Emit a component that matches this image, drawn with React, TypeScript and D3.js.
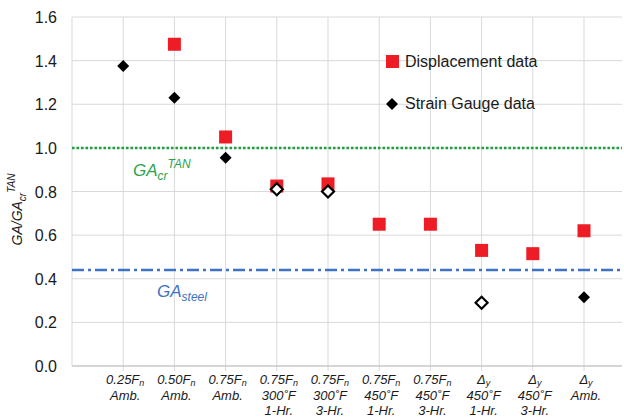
import React from "react";
import * as d3 from "d3";

const categories = [
  ["0.25F|n", "Amb.", ""],
  ["0.50F|n", "Amb.", ""],
  ["0.75F|n", "Amb.", ""],
  ["0.75F|n", "300˚F", "1-Hr."],
  ["0.75F|n", "300˚F", "3-Hr."],
  ["0.75F|n", "450˚F", "1-Hr."],
  ["0.75F|n", "450˚F", "3-Hr."],
  ["Δ|y", "450˚F", "1-Hr."],
  ["Δ|y", "450˚F", "3-Hr."],
  ["Δ|y", "Amb.", ""],
];
const displacement: (number | null)[] = [null, 1.475, 1.05, 0.825, 0.835, 0.65, 0.65, 0.53, 0.515, 0.62];
const strainGauge: (number | null)[] = [1.375, 1.23, 0.955, 0.81, 0.8, null, null, 0.29, null, 0.315];
const strainHollow = [false, false, false, true, true, false, false, true, false, false];
const yTicks = [0, 0.2, 0.4, 0.6, 0.8, 1.0, 1.2, 1.4, 1.6];
const gaCrTan = 1.0;
const gaSteel = 0.44;

export default function App() {
  const W = 624, H = 420;
  const left = 72, right = 622, top = 17, bottom = 366;
  const x = d3.scaleLinear().domain([0, 1]).range([left, left + 51.2]);
  const y = d3.scaleLinear().domain([0, 1.6]).range([bottom, top]);
  const font = "Liberation Sans, Arial, sans-serif";
  const sq = 13;
  const dm = 6;
  const diamond = (cx: number, cy: number) =>
    `M${cx},${cy - dm}L${cx + dm},${cy}L${cx},${cy + dm}L${cx - dm},${cy}Z`;

  return (
    <svg width={W} height={H} style={{ position: "absolute", left: 0, top: 0, background: "#fff" }} fontFamily={font}>
      {/* grid */}
      {yTicks.map((t) => (
        <line key={"h" + t} x1={left} x2={right} y1={y(t)} y2={y(t)} stroke="#d9d9d9" strokeWidth={1} />
      ))}
      {d3.range(0, 11).map((i) => (
        <line key={"v" + i} x1={x(i)} x2={x(i)} y1={top} y2={bottom + (i === 0 ? 0 : 5)} stroke="#d9d9d9" strokeWidth={1} />
      ))}
      <line x1={left} x2={right} y1={bottom} y2={bottom} stroke="#bfbfbf" strokeWidth={1} />
      {/* reference lines */}
      <line x1={left} x2={right} y1={y(gaCrTan)} y2={y(gaCrTan)} stroke="#1f9e3f" strokeWidth={2.5} strokeDasharray="2.5 2" />
      <line x1={left} x2={right} y1={y(gaSteel)} y2={y(gaSteel)} stroke="#3d72c4" strokeWidth={2.5} strokeDasharray="12 4 3 4" />
      {/* y tick labels */}
      {yTicks.map((t) => (
        <text key={"yl" + t} x={57} y={y(t) + 6} textAnchor="end" fontSize={16} fill="#1a1a1a">
          {t.toFixed(1)}
        </text>
      ))}
      {/* y title */}
      <text transform={`translate(22,${(top + bottom) / 2 + 18}) rotate(-90)`} textAnchor="middle" fontSize={14} fill="#1a1a1a">
        <tspan fontStyle="italic">GA/GA</tspan>
        <tspan fontStyle="italic" fontSize={10} dy={4}>cr</tspan>
        <tspan fontStyle="italic" fontSize={10} dy={-11}>TAN</tspan>
      </text>
      {/* x labels */}
      {categories.map((c, i) => {
        const cx = x(i + 1) + 2;
        const [main, sub] = c[0].split("|");
        return (
          <g key={"xl" + i} fontStyle="italic" fontSize={13} fill="#1a1a1a" textAnchor="middle">
            <text x={cx} y={384}>
              {main}
              <tspan fontSize={9} dy={2}>{sub}</tspan>
            </text>
            <text x={cx} y={400}>{c[1]}</text>
            {c[2] && <text x={cx} y={415}>{c[2]}</text>}
          </g>
        );
      })}
      {/* annotations */}
      <text x={133} y={176} fill="#2aa44a" fontSize={17} fontStyle="italic">
        GA<tspan fontSize={12} dy={4}>cr</tspan>
        <tspan fontSize={12} dy={-12}>TAN</tspan>
      </text>
      <text x={157} y={297} fill="#3d72c4" fontSize={17} fontStyle="italic">
        GA<tspan fontSize={12} dy={4}>steel</tspan>
      </text>
      {/* displacement */}
      {displacement.map((v, i) =>
        v == null ? null : (
          <rect key={"d" + i} x={x(i + 1) - sq / 2} y={y(v) - sq / 2} width={sq} height={sq} fill="#ee1c25" />
        )
      )}
      {/* strain gauge */}
      {strainGauge.map((v, i) =>
        v == null ? null : strainHollow[i] ? (
          <path key={"s" + i} d={diamond(x(i + 1), y(v))} fill="#fff" stroke="#000" strokeWidth={2.2} />
        ) : (
          <path key={"s" + i} d={diamond(x(i + 1), y(v))} fill="#000" />
        )
      )}
      {/* legend */}
      <rect x={386} y={55} width={13} height={13} fill="#ee1c25" />
      <text x={405} y={67} fontSize={16} fill="#1a1a1a">Displacement data</text>
      <path d={diamond(392, 104)} fill="#000" />
      <text x={405} y={109} fontSize={16} fill="#1a1a1a">Strain Gauge data</text>
    </svg>
  );
}
